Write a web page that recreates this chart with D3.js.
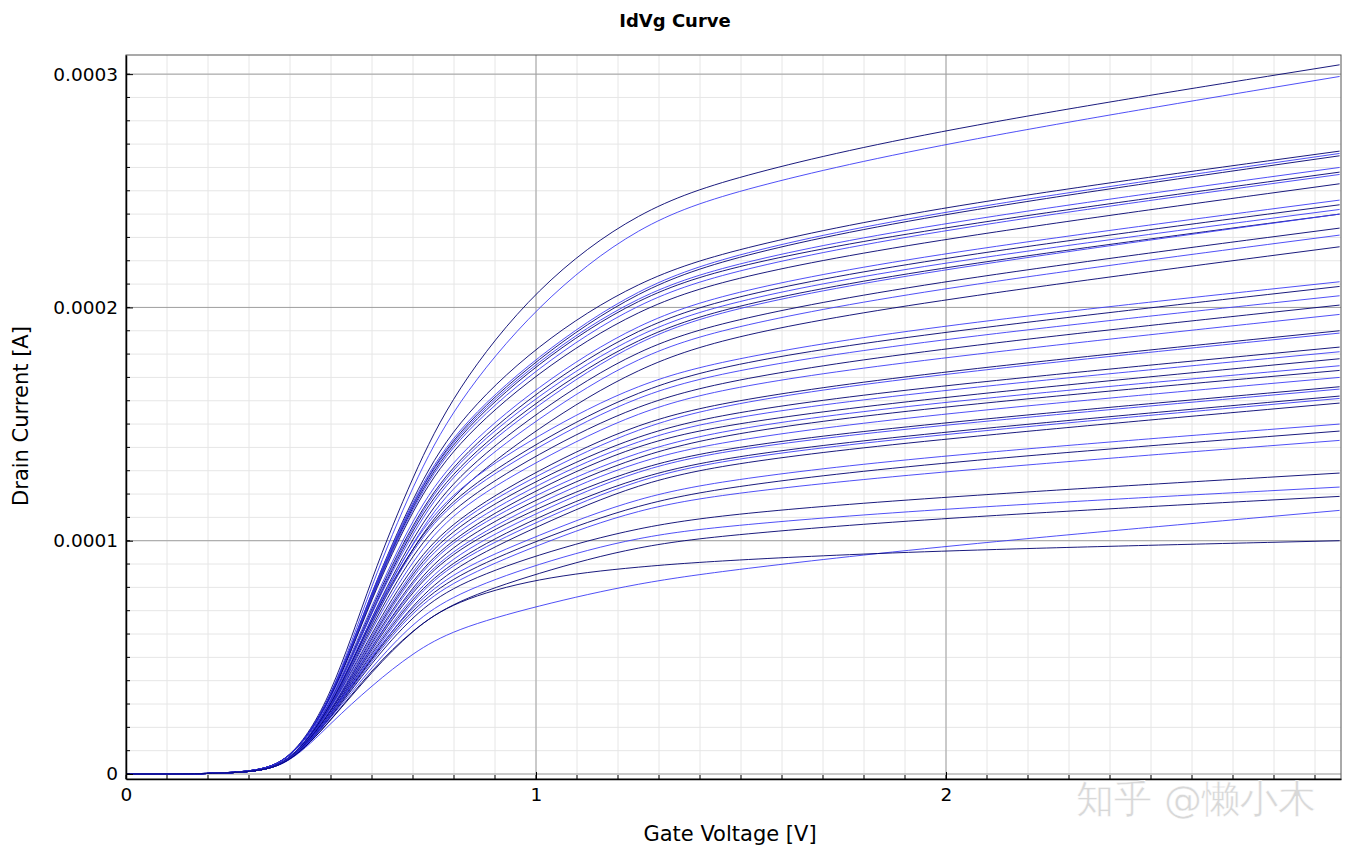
<!DOCTYPE html>
<html>
<head>
<meta charset="utf-8">
<script src="https://cdn.jsdelivr.net/npm/d3@7"></script>
<style>
  body { margin: 0; background: #fff; }
  text { font-family: "DejaVu Sans", sans-serif; }
</style>
</head>
<body>
<svg id="chart" width="1356" height="853"></svg>
<script>
// gate voltage sample points [V]
var vg = [0, 0.3, 0.4, 0.5, 0.6, 0.7, 0.8, 1.0, 1.25, 1.5, 2.0, 2.96];

// drain current per curve, in units of 1e-4 A
var curves = [
  [0,0,0.05,0.32,0.85,1.28,1.64,2.09,2.42,2.57,2.77,3.04],
  [0,0,0.05,0.31,0.82,1.24,1.58,2.01,2.36,2.51,2.71,2.99],
  [0,0,0.05,0.31,0.79,1.19,1.50,1.84,2.12,2.26,2.44,2.67],
  [0,0,0.05,0.31,0.79,1.18,1.47,1.79,2.09,2.24,2.42,2.66],
  [0,0,0.05,0.31,0.78,1.17,1.46,1.78,2.08,2.23,2.41,2.65],
  [0,0,0.05,0.31,0.78,1.17,1.45,1.77,2.06,2.20,2.37,2.60],
  [0,0,0.05,0.30,0.77,1.16,1.44,1.76,2.05,2.19,2.35,2.58],
  [0,0,0.05,0.30,0.77,1.15,1.43,1.74,2.03,2.17,2.34,2.57],
  [0,0,0.05,0.30,0.76,1.14,1.41,1.72,2.00,2.14,2.30,2.53],
  [0,0,0.05,0.30,0.73,1.10,1.36,1.66,1.94,2.08,2.24,2.46],
  [0,0,0.04,0.29,0.72,1.08,1.34,1.64,1.92,2.06,2.22,2.44],
  [0,0,0.04,0.29,0.71,1.07,1.33,1.62,1.90,2.04,2.20,2.42],
  [0,0,0.04,0.29,0.70,1.06,1.31,1.60,1.88,2.02,2.18,2.40],
  [0,0,0.04,0.29,0.70,1.04,1.30,1.58,1.87,2.01,2.17,2.40],
  [0,0,0.04,0.28,0.68,1.02,1.27,1.55,1.83,1.96,2.12,2.34],
  [0,0,0.04,0.28,0.67,1.00,1.25,1.52,1.80,1.93,2.09,2.31],
  [0,0,0.04,0.28,0.65,0.98,1.21,1.48,1.75,1.89,2.04,2.26],
  [0,0,0.04,0.28,0.68,1.00,1.22,1.45,1.68,1.79,1.93,2.11],
  [0,0,0.04,0.28,0.67,0.98,1.19,1.42,1.65,1.77,1.90,2.09],
  [0,0,0.04,0.27,0.66,0.97,1.18,1.40,1.63,1.74,1.87,2.05],
  [0,0,0.04,0.27,0.64,0.95,1.15,1.37,1.59,1.70,1.83,2.01],
  [0,0,0.04,0.27,0.63,0.92,1.13,1.34,1.56,1.67,1.79,1.97],
  [0,0,0.04,0.27,0.61,0.90,1.09,1.30,1.51,1.61,1.73,1.90],
  [0,0,0.04,0.27,0.60,0.88,1.08,1.28,1.49,1.60,1.72,1.89],
  [0,0,0.04,0.26,0.59,0.87,1.06,1.26,1.46,1.56,1.67,1.83],
  [0,0,0.04,0.26,0.58,0.86,1.04,1.24,1.44,1.54,1.65,1.81],
  [0,0,0.04,0.26,0.57,0.84,1.02,1.22,1.42,1.51,1.62,1.78],
  [0,0,0.04,0.26,0.56,0.83,1.01,1.20,1.39,1.49,1.60,1.75],
  [0,0,0.04,0.26,0.55,0.81,0.99,1.18,1.37,1.47,1.58,1.73],
  [0,0,0.04,0.25,0.55,0.80,0.97,1.16,1.35,1.44,1.55,1.70],
  [0,0,0.04,0.25,0.54,0.79,0.96,1.14,1.32,1.41,1.51,1.66],
  [0,0,0.04,0.25,0.53,0.77,0.94,1.12,1.31,1.40,1.50,1.65],
  [0,0,0.04,0.25,0.52,0.76,0.92,1.10,1.28,1.37,1.47,1.62],
  [0,0,0.04,0.25,0.51,0.75,0.91,1.08,1.27,1.36,1.46,1.61],
  [0,0,0.04,0.25,0.50,0.73,0.89,1.06,1.25,1.34,1.44,1.59],
  [0,0,0.04,0.25,0.51,0.72,0.87,1.02,1.19,1.27,1.37,1.50],
  [0,0,0.04,0.24,0.50,0.71,0.85,1.00,1.16,1.24,1.34,1.47],
  [0,0,0.04,0.24,0.49,0.70,0.83,0.98,1.14,1.21,1.30,1.43],
  [0,0,0.04,0.24,0.48,0.68,0.81,0.94,1.06,1.12,1.19,1.29],
  [0,0,0.04,0.24,0.46,0.65,0.77,0.90,1.02,1.07,1.14,1.23],
  [0,0,0.04,0.23,0.44,0.62,0.74,0.86,0.98,1.03,1.10,1.19],
  [0,0,0.04,0.22,0.38,0.52,0.62,0.72,0.82,0.88,0.98,1.13],
  [0,0,0.04,0.23,0.45,0.62,0.74,0.84,0.89,0.92,0.96,1.00]
];

var xTicks = [0, 1, 2];
var yTicks = [0, 1, 2, 3];
var yTickLabels = ["0", "0.0001", "0.0002", "0.0003"];
var lineColors = ["#00006e", "#3c3cf5"];

var svg = d3.select("#chart");
var pLeft = 126, pRight = 1341, pTop = 55, pBottom = 779;

var x = d3.scaleLinear().domain([0, 2.9634]).range([pLeft, pRight]);
var y = d3.scaleLinear().domain([-0.0214, 3.082]).range([pBottom, pTop]);

// grid
var minorX = d3.range(0, 30, 1).map(function(d) { return d / 10; });
var minorY = d3.range(0, 31, 1).map(function(d) { return d / 10; });
var grid = svg.append("g");
grid.selectAll(".mx").data(minorX).enter().append("line")
  .attr("x1", function(d) { return x(d); }).attr("x2", function(d) { return x(d); })
  .attr("y1", pTop).attr("y2", pBottom)
  .attr("stroke", "#e6e6e6").attr("stroke-width", 1);
grid.selectAll(".my").data(minorY).enter().append("line")
  .attr("y1", function(d) { return y(d); }).attr("y2", function(d) { return y(d); })
  .attr("x1", pLeft).attr("x2", pRight)
  .attr("stroke", "#e6e6e6").attr("stroke-width", 1);
grid.selectAll(".Mx").data(xTicks).enter().append("line")
  .attr("x1", function(d) { return x(d); }).attr("x2", function(d) { return x(d); })
  .attr("y1", pTop).attr("y2", pBottom)
  .attr("stroke", "#a0a0a0").attr("stroke-width", 1);
grid.selectAll(".My").data(yTicks).enter().append("line")
  .attr("y1", function(d) { return y(d); }).attr("y2", function(d) { return y(d); })
  .attr("x1", pLeft).attr("x2", pRight)
  .attr("stroke", "#a0a0a0").attr("stroke-width", 1);

// curves (B-spline through the read-off points to smooth the knees)
var line = d3.line()
  .x(function(d, i) { return x(vg[i]); })
  .y(function(d) { return y(d); })
  .curve(d3.curveBasis);

svg.append("g").selectAll("path").data(curves).enter().append("path")
  .attr("d", line)
  .attr("fill", "none")
  .attr("stroke", function(d, i) { return lineColors[i % 2]; })
  .attr("stroke-width", 0.9);

// frame
svg.append("rect").attr("x", pLeft).attr("y", pTop)
  .attr("width", pRight - pLeft).attr("height", pBottom - pTop)
  .attr("fill", "none").attr("stroke", "#555").attr("stroke-width", 1);

// axes
var xAxis = d3.axisBottom(x).tickValues(xTicks).tickFormat(d3.format("d")).tickSizeInner(-7).tickSizeOuter(0).tickPadding(9);
var gx = svg.append("g").attr("transform", "translate(0," + pBottom + ")").call(xAxis);
gx.selectAll(".minor").data(minorX).enter().append("line").attr("class", "minor")
  .attr("x1", function(d) { return x(d); }).attr("x2", function(d) { return x(d); })
  .attr("y1", 0).attr("y2", -4).attr("stroke", "#000");

var yAxis = d3.axisLeft(y).tickValues(yTicks).tickFormat(function(d, i) { return yTickLabels[i]; })
  .tickSizeInner(-7).tickSizeOuter(0).tickPadding(8);
var gy = svg.append("g").attr("transform", "translate(" + pLeft + ",0)").call(yAxis);
gy.selectAll(".minor").data(minorY).enter().append("line").attr("class", "minor")
  .attr("y1", function(d) { return y(d); }).attr("y2", function(d) { return y(d); })
  .attr("x1", 0).attr("x2", 4).attr("stroke", "#000");

[gx, gy].forEach(function(g) {
  g.select(".domain").attr("stroke", "#000").attr("stroke-width", 1.5);
  g.selectAll(".tick text").attr("font-size", 18.5).attr("fill", "#000")
    .attr("font-family", "DejaVu Sans, sans-serif");
});

// titles
svg.append("text").attr("x", 675).attr("y", 27).attr("text-anchor", "middle")
  .attr("font-size", 18).attr("font-weight", "bold").text("IdVg Curve");
svg.append("text").attr("x", 730).attr("y", 841).attr("text-anchor", "middle")
  .attr("font-size", 21).text("Gate Voltage [V]");
svg.append("text").attr("transform", "translate(28,416) rotate(-90)").attr("text-anchor", "middle")
  .attr("font-size", 21).text("Drain Current [A]");

// watermark
svg.append("text").attr("x", 1196).attr("y", 812).attr("text-anchor", "middle")
  .attr("font-family", "Noto Sans CJK SC, sans-serif").attr("font-size", 38)
  .attr("fill", "#d8d8d8").attr("stroke", "#fff").attr("stroke-width", 0.5)
  .text("知乎 @懒小木");
</script>
</body>
</html>
